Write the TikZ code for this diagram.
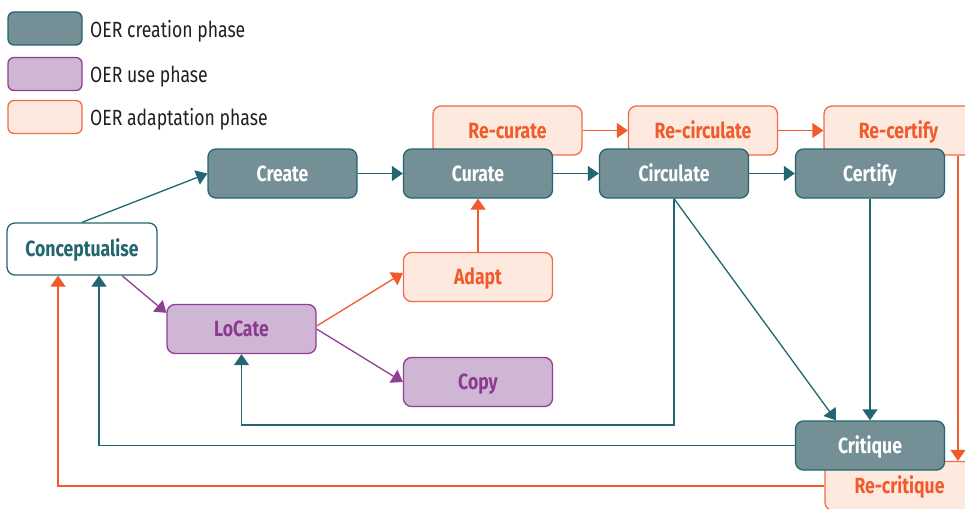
\documentclass[tikz,border=0pt]{standalone}
\usepackage{fontspec}
\setmainfont{Fira Sans}[FakeStretch=0.8]
\usetikzlibrary{arrows.meta,calc}
\definecolor{tealD}{RGB}{34,102,111}
\definecolor{tealF}{RGB}{117,143,150}
\definecolor{purD}{RGB}{142,63,146}
\definecolor{purF}{RGB}{208,182,213}
\definecolor{purT}{RGB}{139,59,142}
\definecolor{orD}{RGB}{242,107,74}
\definecolor{orF}{RGB}{254,233,223}
\definecolor{orT}{RGB}{241,90,43}
\definecolor{legT}{RGB}{35,31,32}
\newcommand{\nodefnt}{\fontsize{22pt}{25pt}\selectfont\bfseries}
\newcommand{\legfnt}{\fontsize{22pt}{25pt}\selectfont}
\tikzset{
  box/.style={rounded corners=8pt, minimum width=149pt, minimum height=49pt, inner sep=0pt, line width=1.3pt, font=\nodefnt, text height=15pt, text depth=0pt},
  creat/.style={box, draw=tealD, fill=tealF, text=white},
  usep/.style={box, draw=purD, fill=purF, text=purT},
  adap/.style={box, draw=orD, fill=orF, text=orT},
  conc/.style={box, draw=tealD, fill=white, text=tealD, minimum width=150pt, minimum height=52pt},
  legbox/.style={rounded corners=6pt, minimum width=74pt, minimum height=33pt, inner sep=0pt, line width=1.3pt},
  legtext/.style={anchor=west, inner sep=0pt, text=legT, font=\legfnt, text height=15pt, text depth=0pt},
  tarr/.style={draw=tealD, line width=1.3pt, -{Triangle[length=11pt,width=15pt]}},
  parr/.style={draw=purD, line width=1.3pt, -{Triangle[length=11pt,width=15pt]}},
  oarr/.style={draw=orT, line width=1.3pt, -{Triangle[length=11pt,width=15pt]}},
}
\begin{document}
\begin{tikzpicture}[x=1pt,y=-1pt]
\clip (0,0) rectangle (965,508);
\fill[white] (0,0) rectangle (965,508);
% legend
\node[legbox, draw=tealD, fill=tealF] (lg1) at (45,28.5) {};
\node[legbox, draw=purD, fill=purF] (lg2) at (45,74) {};
\node[legbox, draw=orD, fill=orF] (lg3) at (45,117) {};
\node[legtext] (lt1) at (90,30) {OER creation phase};
\node[legtext] (lt2) at (90,75) {OER use phase};
\node[legtext] (lt3) at (90,118) {OER adaptation phase};
% adaptation boxes behind
\node[adap] (recur) at (507.5,130.5) {Re-curate};
\node[adap] (recirc) at (703,130.5) {Re-circulate};
\node[adap] (recert) at (898.5,130.5) {Re-certify};
\node[adap] (recrit) at (899.5,486) {Re-critique};
\draw[oarr] (recur.east) -- (recirc.west);
\draw[oarr] (recirc.east) -- (recert.west);
\draw[oarr] ([xshift=59.5pt]recert.south) -- ([xshift=59.5pt]recert.south |- recrit.north);
% main nodes
\node[creat] (create) at (282.5,173.5) {Create};
\node[creat] (curate) at (478,173.5) {Curate};
\node[creat] (circ) at (674,173.5) {Circulate};
\node[creat] (cert) at (870,173.5) {Certify};
\node[creat] (crit) at (870,445.5) {Critique};
\node[conc] (concept) at (82,249) {Conceptualise};
\node[usep] (locate) at (241.5,329) {LoCate};
\node[adap] (adapt) at (478,277) {Adapt};
\node[usep] (copy) at (478,382) {Copy};
% connectors
\draw[tarr] (concept.north) -- (create.west);
\draw[tarr] (create.east) -- (curate.west);
\draw[tarr] (curate.east) -- (circ.west);
\draw[tarr] (circ.east) -- (cert.west);
\draw[tarr] (cert.south) -- (crit.north);
\draw[tarr] (circ.south) -- ([xshift=-34pt]crit.north);
\coordinate (c1) at (674,425);
\draw[tarr] (circ.south) -- (c1) -| (locate.south);
\coordinate (c2) at (99,445.5);
\draw[tarr] (crit.west) -- (c2) -- (c2 |- concept.south);
\coordinate (c3) at (58,486);
\draw[oarr] (recrit.west) -- (c3) -- (c3 |- concept.south);
\draw[parr] ([xshift=40pt]concept.south) -- ([yshift=-9pt]locate.north west);
\draw[oarr] ([yshift=3pt]locate.east) -- ([yshift=4pt]adapt.west);
\draw[parr] (locate.east) -- (copy.west);
\draw[oarr] (adapt.north) -- (curate.south);
\end{tikzpicture}
\end{document}
